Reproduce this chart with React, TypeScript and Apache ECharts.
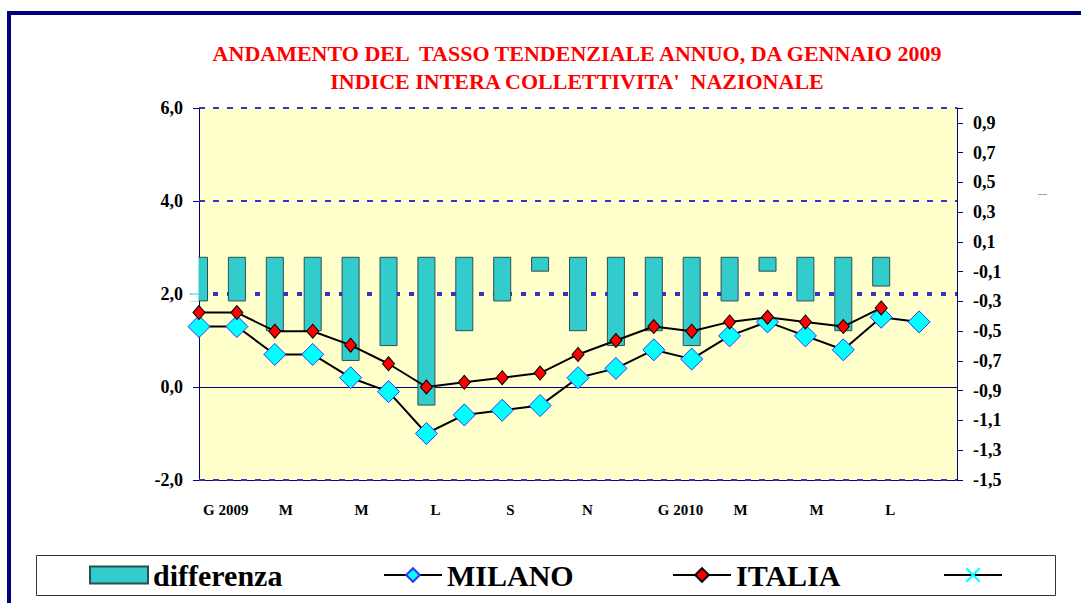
import React, { useEffect, useRef } from 'react';
import * as echarts from 'echarts';

// ---- data ----
const months = ['G 2009', 'F', 'M', 'A', 'M', 'G', 'L', 'A', 'S', 'O', 'N', 'D', 'G 2010', 'F', 'M', 'A', 'M', 'G', 'L', 'A', 'S'];
const milano = [1.3, 1.3, 0.7, 0.7, 0.2, -0.1, -1.0, -0.6, -0.5, -0.4, 0.2, 0.4, 0.8, 0.6, 1.1, 1.4, 1.1, 0.8, 1.5, 1.4];
const italia = [1.6, 1.6, 1.2, 1.2, 0.9, 0.5, 0.0, 0.1, 0.2, 0.3, 0.7, 1.0, 1.3, 1.2, 1.4, 1.5, 1.4, 1.3, 1.7];
const differenza = [-0.3, -0.3, -0.5, -0.5, -0.7, -0.6, -1.0, -0.5, -0.3, -0.1, -0.5, -0.6, -0.5, -0.6, -0.3, -0.1, -0.3, -0.5, -0.2];
const leftMin = -2;
const leftMax = 6;
const leftStep = 2;
const rightMin = -1.5;
const rightMax = 1.0;
const rightStep = 0.2;
const dashedLevels = [6, 4, -2];
const dottedLevel = 2;
const zeroLevel = 0;
const titleLines = ['ANDAMENTO DEL  TASSO TENDENZIALE ANNUO, DA GENNAIO 2009', "INDICE INTERA COLLETTIVITA'  NAZIONALE"];
const seriesNames = ['differenza', 'MILANO', 'ITALIA', ' '];

export default function App() {
  const ref = useRef<HTMLDivElement>(null);
  useEffect(() => {
    const chart = echarts.init(ref.current!, null, { renderer: 'svg' });
    const serif = "'Liberation Serif', 'Times New Roman', serif";
    const fmt = (v: number) => v.toFixed(1).replace('.', ',');
    const navy = '#000080';
    const legendBase = {
      top: 560,
      itemWidth: 58,
      itemHeight: 17,
      padding: 0,
      itemGap: 0,
      selectedMode: false,
      textStyle: { fontSize: 30, fontWeight: 'bold', fontFamily: serif, color: '#000' },
    };
    const option: any = {
      animation: false,
      backgroundColor: '#ffffff',
      title: {
        text: titleLines.join('\n'),
        left: 577,
        textAlign: 'center',
        top: 39,
        padding: 0,
        textStyle: { color: '#FF0000', fontSize: 22, fontWeight: 'bold', fontFamily: serif, lineHeight: 28 },
      },
      grid: {
        left: 199,
        right: 124,
        top: 108,
        bottom: 123,
        show: true,
        backgroundColor: '#FFFFCC',
        borderWidth: 0,
      },
      legend: [
        { ...legendBase, left: 89, icon: 'rect', data: [seriesNames[0]] },
        { ...legendBase, left: 383, data: [seriesNames[1]] },
        { ...legendBase, left: 672, data: [seriesNames[2]] },
        { ...legendBase, left: 943, data: [seriesNames[3]] },
      ],
      xAxis: {
        type: 'category',
        data: months,
        boundaryGap: false,
        axisLine: { show: true, onZero: false, lineStyle: { color: navy, width: 1 } },
        axisTick: { show: false },
        axisLabel: {
          interval: (i: number) => i % 2 === 0 && i < months.length - 1,
          align: 'left',
          padding: [0, 0, 0, 4],
          margin: 22,
          fontSize: 15,
          fontWeight: 'bold',
          fontFamily: serif,
          color: '#000',
        },
        splitLine: { show: false },
      },
      yAxis: [
        {
          type: 'value',
          position: 'left',
          min: leftMin,
          max: leftMax,
          interval: leftStep,
          axisLine: { show: true, lineStyle: { color: navy, width: 1 } },
          axisTick: { show: true, length: 6, lineStyle: { color: navy } },
          axisLabel: { formatter: fmt, fontSize: 18, fontWeight: 'bold', fontFamily: serif, color: '#000', margin: 16 },
          splitLine: { show: false },
        },
        {
          type: 'value',
          position: 'right',
          show: false,
          min: rightMin,
          max: rightMax,
          splitLine: { show: false },
        },
        {
          type: 'value',
          position: 'right',
          min: 0,
          max: rightMax - rightMin,
          interval: rightStep,
          axisLine: { show: true, lineStyle: { color: navy, width: 1 } },
          axisTick: { show: true, length: 6, lineStyle: { color: navy } },
          axisLabel: {
            formatter: (v: number) => (v > rightMax - rightMin - 0.05 ? '' : fmt(v + rightMin)),
            fontSize: 18,
            fontWeight: 'bold',
            fontFamily: serif,
            color: '#000',
            margin: 16,
          },
          splitLine: { show: false },
        },
      ],
      series: [
        {
          name: seriesNames[0],
          type: 'bar',
          yAxisIndex: 1,
          data: differenza,
          barWidth: 18,
          clip: true,
          z: 2,
          itemStyle: { color: '#33CCCC', borderColor: '#2F4F4F', borderWidth: 1 },
        },
        {
          name: seriesNames[1],
          type: 'line',
          yAxisIndex: 0,
          data: milano,
          z: 3,
          symbol: 'diamond',
          symbolSize: 22,
          lineStyle: { color: '#000', width: 2 },
          itemStyle: { color: '#00FFFF', borderColor: '#3333FF', borderWidth: 1 },
          markLine: {
            silent: true,
            symbol: 'none',
            z: 1,
            label: { show: false },
            emphasis: { disabled: true },
            data: [
              ...dashedLevels.map((v) => ({ yAxis: v, lineStyle: { color: '#3333CC', width: 2, type: [6, 8] } })),
              { yAxis: dottedLevel, lineStyle: { color: '#3333CC', width: 4, type: [5, 9] } },
              { yAxis: zeroLevel, lineStyle: { color: navy, width: 1, type: 'solid' } },
            ],
          },
        },
        {
          name: seriesNames[2],
          type: 'line',
          yAxisIndex: 0,
          data: italia,
          z: 4,
          symbol: 'diamond',
          symbolSize: [12, 14],
          lineStyle: { color: '#000', width: 2 },
          itemStyle: { color: '#FF0000', borderColor: '#000', borderWidth: 1 },
        },
        {
          name: seriesNames[3],
          type: 'line',
          yAxisIndex: 0,
          data: [],
          symbol: 'path://M0,0L10,10M10,0L0,10',
          symbolSize: 12,
          lineStyle: { color: '#000', width: 1 },
          itemStyle: { color: '#00FFFF', borderColor: '#00FFFF', borderWidth: 1 },
        },
      ],
      graphic: [
        {
          type: 'rect',
          z: -10,
          shape: { x: 36.5, y: 555.5, width: 1019, height: 40 },
          style: { fill: '#ffffff', stroke: '#333333', lineWidth: 1 },
        },
        // mask the part of the first bar that falls outside the plot area
        { type: 'rect', z: 100, shape: { x: 186, y: 250, width: 12.5, height: 43.5 }, style: { fill: '#ffffff' } },
        { type: 'rect', z: 100, shape: { x: 186, y: 294.5, width: 12.5, height: 7 }, style: { fill: '#ffffff' } },
        { type: 'rect', z: 100, shape: { x: 7, y: 11, width: 4, height: 592 }, style: { fill: navy } },
        { type: 'rect', z: 100, shape: { x: 7, y: 11, width: 1074, height: 4 }, style: { fill: navy } },
        {
          type: 'line',
          shape: { x1: 1038, y1: 194.5, x2: 1047, y2: 194.5 },
          style: { stroke: '#9999DD', lineWidth: 1 },
        },
      ],
    };
    chart.setOption(option);
    return () => chart.dispose();
  }, []);
  return <div ref={ref} style={{ position: 'absolute', left: 0, top: 0, width: 1081, height: 603 }} />;
}
